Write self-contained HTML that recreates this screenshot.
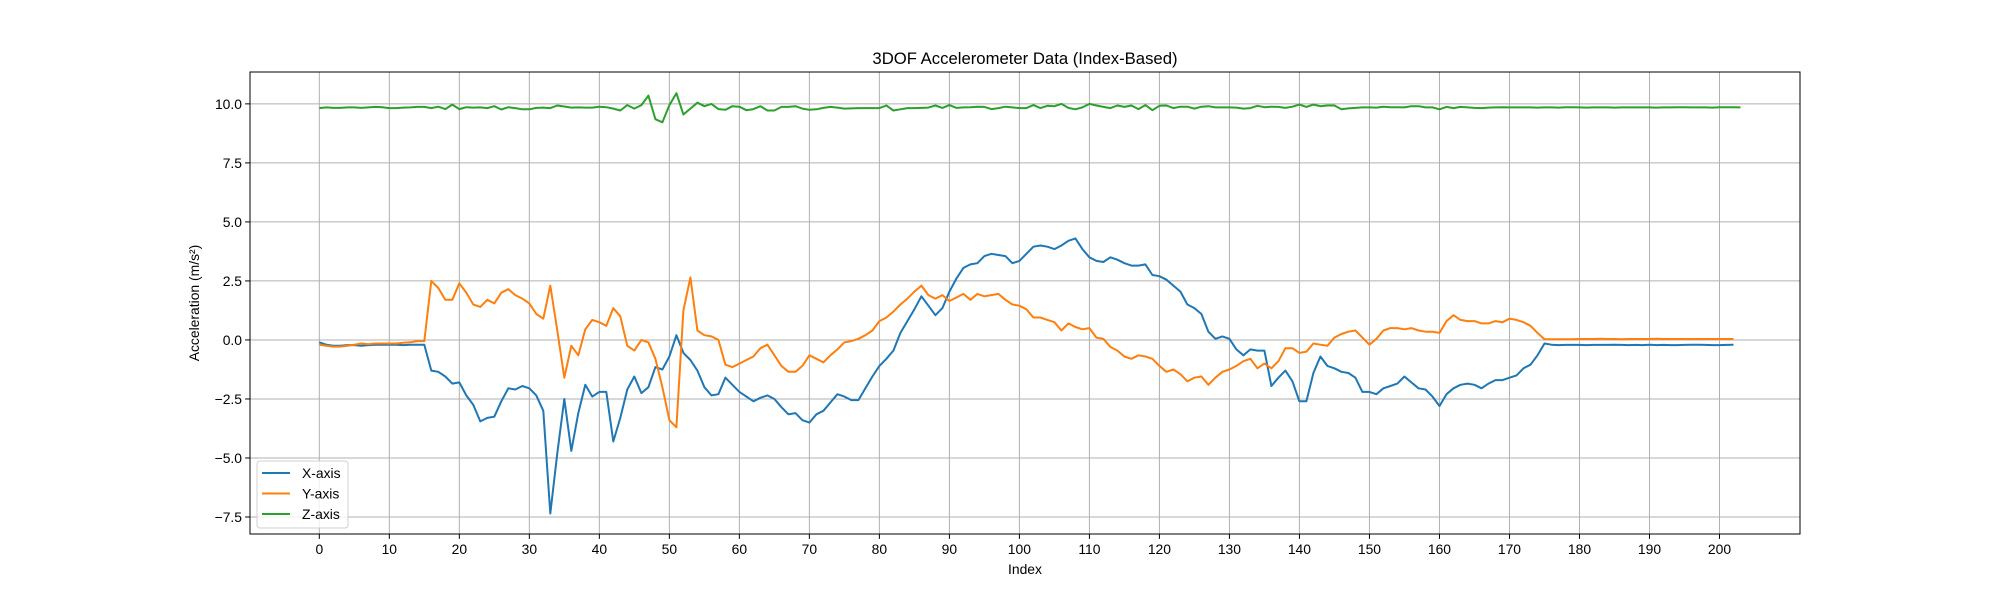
<!DOCTYPE html>
<html><head><meta charset="utf-8"><style>
html,body{margin:0;padding:0;background:#fff;}
svg{display:block;font-family:"Liberation Sans","DejaVu Sans",sans-serif;}
</style></head><body>
<svg id="chart" width="2000" height="600">
<rect width="2000" height="600" fill="#fff"/>
<g id="grid"></g><g id="series"></g><g id="axes"></g>
<text x="1025" y="64" text-anchor="middle" font-size="16.7" fill="#000">3DOF Accelerometer Data (Index-Based)</text>
<text x="1025" y="574" text-anchor="middle" font-size="13.9" fill="#000">Index</text>
<text transform="translate(199,303) rotate(-90)" text-anchor="middle" font-size="13.9" fill="#000">Acceleration (m/s²)</text>
<g id="legend"></g>
</svg>
<script>
const seriesNames = ["X-axis","Y-axis","Z-axis"];
const seriesColors = ["#1f77b4","#ff7f0e","#2ca02c"];
const xVals = [-0.1,-0.2,-0.25,-0.25,-0.22,-0.22,-0.25,-0.22,-0.2,-0.2,-0.2,-0.2,-0.22,-0.2,-0.2,-0.2,-1.3,-1.35,-1.55,-1.85,-1.8,-2.35,-2.75,-3.45,-3.3,-3.25,-2.6,-2.05,-2.1,-1.95,-2.05,-2.35,-3.0,-7.35,-4.8,-2.5,-4.7,-3.1,-1.9,-2.4,-2.2,-2.2,-4.3,-3.3,-2.1,-1.55,-2.25,-2.0,-1.15,-1.25,-0.7,0.2,-0.55,-0.85,-1.3,-2.0,-2.35,-2.3,-1.6,-1.9,-2.2,-2.4,-2.6,-2.45,-2.35,-2.5,-2.85,-3.15,-3.1,-3.4,-3.5,-3.15,-3.0,-2.65,-2.3,-2.4,-2.55,-2.55,-2.05,-1.55,-1.1,-0.8,-0.45,0.3,0.8,1.3,1.85,1.45,1.05,1.35,2.05,2.6,3.05,3.2,3.25,3.55,3.65,3.6,3.55,3.25,3.35,3.65,3.95,4.0,3.95,3.85,4.0,4.2,4.3,3.85,3.5,3.35,3.3,3.5,3.4,3.25,3.15,3.15,3.2,2.75,2.7,2.55,2.3,2.05,1.5,1.35,1.1,0.35,0.05,0.15,0.05,-0.4,-0.65,-0.4,-0.45,-0.45,-1.95,-1.6,-1.3,-1.75,-2.6,-2.6,-1.4,-0.7,-1.1,-1.2,-1.35,-1.4,-1.6,-2.2,-2.2,-2.3,-2.05,-1.95,-1.85,-1.55,-1.8,-2.05,-2.1,-2.4,-2.8,-2.3,-2.05,-1.9,-1.85,-1.9,-2.05,-1.85,-1.7,-1.7,-1.6,-1.5,-1.2,-1.05,-0.65,-0.15,-0.2,-0.22,-0.21,-0.21,-0.21,-0.22,-0.21,-0.21,-0.21,-0.2,-0.21,-0.22,-0.21,-0.22,-0.2,-0.22,-0.21,-0.22,-0.22,-0.21,-0.2,-0.2,-0.21,-0.22,-0.22,-0.21,-0.2];
const yVals = [-0.2,-0.25,-0.28,-0.28,-0.25,-0.2,-0.15,-0.18,-0.15,-0.15,-0.15,-0.15,-0.12,-0.1,-0.05,-0.05,2.5,2.2,1.7,1.7,2.4,2.0,1.5,1.4,1.7,1.55,2.0,2.15,1.9,1.75,1.55,1.1,0.9,2.3,0.4,-1.6,-0.25,-0.65,0.45,0.85,0.75,0.6,1.35,1.0,-0.25,-0.45,0.0,-0.1,-0.8,-2.0,-3.4,-3.7,1.25,2.65,0.4,0.2,0.15,0.0,-1.05,-1.15,-1.0,-0.85,-0.7,-0.35,-0.2,-0.65,-1.1,-1.35,-1.35,-1.1,-0.65,-0.8,-0.95,-0.65,-0.4,-0.1,-0.05,0.05,0.2,0.4,0.8,0.95,1.2,1.5,1.75,2.05,2.3,1.9,1.75,1.9,1.65,1.8,1.95,1.7,1.95,1.85,1.9,1.95,1.7,1.5,1.45,1.3,0.95,0.95,0.85,0.75,0.4,0.7,0.55,0.45,0.5,0.1,0.05,-0.3,-0.45,-0.7,-0.8,-0.65,-0.7,-0.8,-1.1,-1.35,-1.25,-1.45,-1.75,-1.6,-1.55,-1.9,-1.6,-1.35,-1.25,-1.1,-0.9,-0.8,-1.2,-1.0,-1.2,-0.9,-0.35,-0.35,-0.55,-0.5,-0.15,-0.2,-0.25,0.1,0.25,0.35,0.4,0.1,-0.2,0.05,0.4,0.5,0.5,0.45,0.5,0.4,0.35,0.35,0.3,0.8,1.05,0.85,0.8,0.8,0.7,0.7,0.8,0.75,0.9,0.85,0.75,0.6,0.3,0.03,0.03,0.03,0.03,0.03,0.04,0.04,0.04,0.05,0.04,0.04,0.03,0.04,0.04,0.04,0.04,0.05,0.04,0.04,0.04,0.04,0.04,0.04,0.04,0.04,0.04,0.04,0.04];
const zVals = [9.82,9.85,9.83,9.83,9.85,9.85,9.83,9.85,9.87,9.86,9.82,9.82,9.84,9.85,9.87,9.87,9.82,9.88,9.78,9.97,9.78,9.86,9.84,9.85,9.82,9.9,9.76,9.86,9.82,9.77,9.77,9.83,9.84,9.82,9.93,9.89,9.84,9.85,9.84,9.84,9.88,9.86,9.8,9.72,9.95,9.8,9.95,10.35,9.35,9.22,9.95,10.45,9.55,9.8,10.05,9.9,10.0,9.78,9.75,9.9,9.88,9.73,9.78,9.9,9.72,9.72,9.87,9.87,9.9,9.8,9.75,9.77,9.83,9.87,9.84,9.8,9.81,9.82,9.82,9.82,9.82,9.93,9.72,9.77,9.82,9.82,9.83,9.84,9.93,9.83,9.95,9.83,9.85,9.86,9.88,9.87,9.78,9.82,9.88,9.85,9.82,9.82,9.95,9.82,9.92,9.9,10.0,9.83,9.77,9.85,10.0,9.93,9.87,9.82,9.93,9.87,9.93,9.78,9.95,9.73,9.92,9.93,9.82,9.88,9.88,9.8,9.88,9.9,9.85,9.85,9.85,9.84,9.8,9.82,9.92,9.86,9.88,9.87,9.83,9.88,9.97,9.87,9.97,9.9,9.93,9.93,9.77,9.81,9.83,9.85,9.85,9.84,9.88,9.86,9.86,9.85,9.9,9.9,9.85,9.85,9.77,9.87,9.82,9.87,9.85,9.83,9.82,9.84,9.85,9.86,9.85,9.85,9.85,9.85,9.84,9.85,9.85,9.84,9.86,9.86,9.85,9.84,9.85,9.85,9.85,9.84,9.85,9.85,9.85,9.85,9.85,9.84,9.85,9.85,9.86,9.86,9.85,9.85,9.85,9.84,9.86,9.86,9.86,9.85];
const xTickVals = [0,10,20,30,40,50,60,70,80,90,100,110,120,130,140,150,160,170,180,190,200];
const yTickVals = [-7.5,-5.0,-2.5,0.0,2.5,5.0,7.5,10.0];
const yTickLabels = ["−7.5","−5.0","−2.5","0.0","2.5","5.0","7.5","10.0"];

const NS="http://www.w3.org/2000/svg";
const L=250,R=1800,T=72,B=534;
const X0=-9.9,X1=211.5,Y0=-8.22,Y1=11.35;
function sx(v){return L+(v-X0)/(X1-X0)*(R-L);}
function sy(v){return B-(v-Y0)/(Y1-Y0)*(B-T);}
function mk(tag,attrs,parent){const e=document.createElementNS(NS,tag);for(const k in attrs)e.setAttribute(k,attrs[k]);parent.appendChild(e);return e;}
const grid=document.getElementById('grid'),axes=document.getElementById('axes'),ser=document.getElementById('series'),leg=document.getElementById('legend');

xTickVals.forEach((v,i)=>{
  const x=sx(v);
  const g=mk('line',{x1:x,x2:x,y1:T,y2:B,stroke:'#b0b0b0','stroke-width':1},grid);
  
  
  const t=mk('line',{x1:x,x2:x,y1:B,y2:B+4.9,stroke:'#000','stroke-width':1},axes);
  
  
  const lb=mk('text',{x:x,y:B+20,'text-anchor':'middle','font-size':13.9,fill:'#000'},axes);
  lb.textContent=String(v);
  
  
});
yTickVals.forEach((v,i)=>{
  const y=sy(v);
  const g=mk('line',{x1:L,x2:R,y1:y,y2:y,stroke:'#b0b0b0','stroke-width':1},grid);
  
  
  const t=mk('line',{x1:L-4.9,x2:L,y1:y,y2:y,stroke:'#000','stroke-width':1},axes);
  
  
  const lb=mk('text',{x:L-8,y:y+5,'text-anchor':'end','font-size':13.9,fill:'#000'},axes);
  lb.textContent=yTickLabels[i];
  
  
});
const frame=mk('rect',{x:L,y:T,width:R-L,height:B-T,fill:'none',stroke:'#000','stroke-width':1},axes);



[xVals,yVals,zVals].forEach((arr,si)=>{
  const pts=arr.map((v,i)=>sx(i).toFixed(1)+','+sy(v).toFixed(1)).join(' ');
  const p=mk('polyline',{points:pts,fill:'none',stroke:seriesColors[si],'stroke-width':2,'stroke-linejoin':'round'},ser);
  
  
});

const box=mk('rect',{x:257,y:461,width:91,height:67,rx:3,fill:'#fff','fill-opacity':0.8,stroke:'#d0d0d0','stroke-width':1},leg);


seriesNames.forEach((n,i)=>{
  const y=473+i*20.5;
  const l=mk('line',{x1:262,x2:290,y1:y,y2:y,stroke:seriesColors[i],'stroke-width':2},leg);
  
  
  const t=mk('text',{x:302,y:y+5,'font-size':13.9,fill:'#000'},leg);
  t.textContent=n;
  
  
});
</script>
</body></html>
